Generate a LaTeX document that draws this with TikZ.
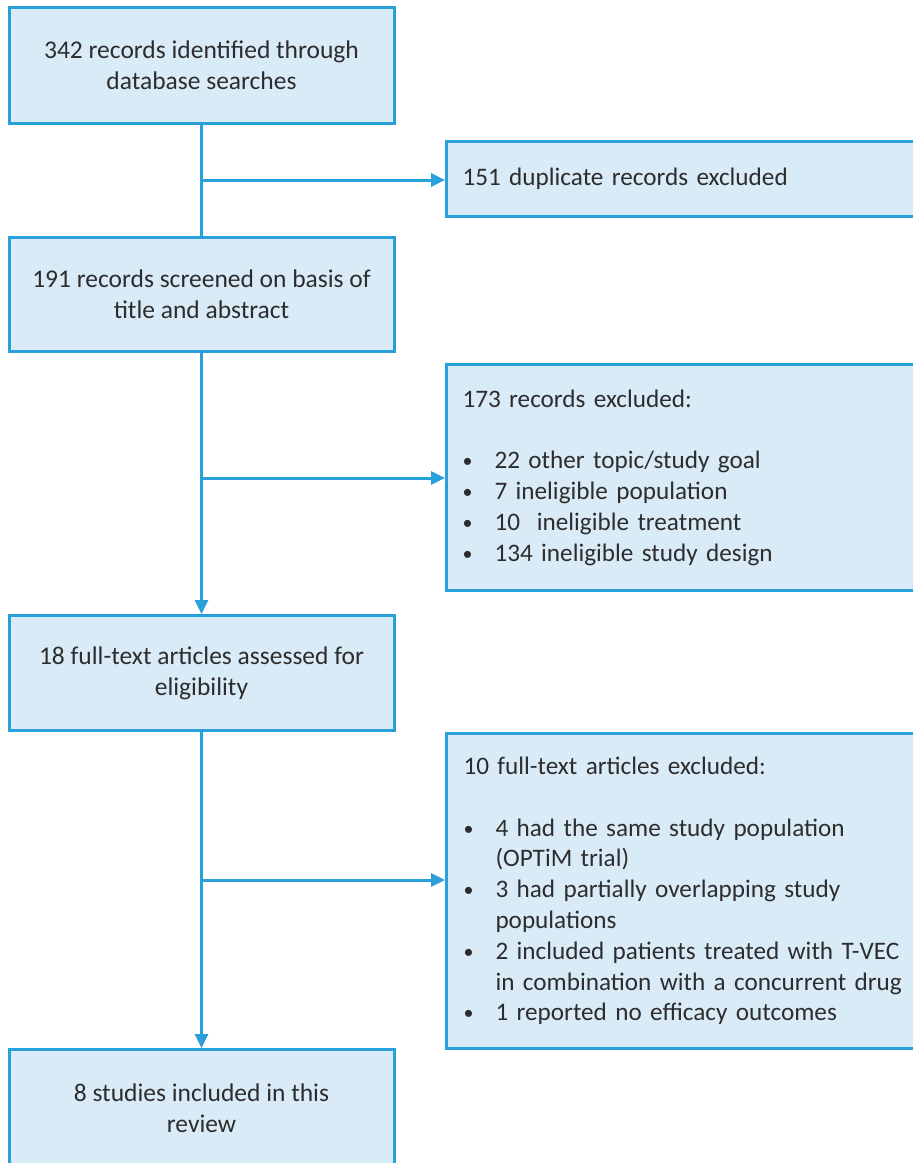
\documentclass[tikz,border=0pt]{standalone}
\usepackage{xcolor}
\usepackage{fontspec}
\setmainfont{Carlito}
\usepackage{tikz}
\usetikzlibrary{arrows.meta, positioning, calc}
\definecolor{myblue}{RGB}{41,160,218}
\definecolor{mylight}{RGB}{218,235,248}
\definecolor{mytext}{RGB}{45,45,45}
\newcommand{\bitem}[1]{\makebox[32pt][l]{\raisebox{1pt}{\fontsize{20}{20}\selectfont\textbullet}}#1}
\newcommand{\bcont}[1]{\hspace*{32pt}#1}
\tikzset{
  box/.style={rectangle, draw=myblue, fill=mylight, line width=3pt, inner sep=0pt, text=mytext, font=\fontsize{25.5}{31}\selectfont},
  leftbox/.style={box, minimum width=385pt, align=center},
  rightbox/.style={box, inner xsep=16pt, text width=451pt, align=left, font=\fontsize{25.2}{30.8}\selectfont},
  arrow/.style={-{Triangle[length=14pt,width=13pt]}, line width=3pt, color=myblue},
  line/.style={line width=3pt, color=myblue}
}
\begin{document}
\begin{tikzpicture}[x=1pt, y=-1pt]
  \useasboundingbox (0,0) rectangle (913,1163);
  \clip (0,0) rectangle (913,1163);

  % Main column
  \node[leftbox, minimum height=116pt] (ident) at (201.5,65.5) {342 records identified through\\database searches};
  \node[leftbox, minimum height=114pt] (screen) at (201.5,294.5) {191 records screened on basis of\\title and abstract};
  \node[leftbox, minimum height=115pt] (full) at (201.5,673) {18 full-text articles assessed for\\eligibility};
  \node[leftbox, minimum height=118pt] (incl) at (201.5,1108.5) {8 studies included in this\\review};

  % Exclusion boxes
  \node[rightbox, minimum height=75pt] (dup) at (688,179) {151 duplicate records excluded};
  \node[rightbox, minimum height=226pt] (excl1) at (688,477.5) {173 records excluded:\\[30.8pt]
    \bitem{22 other topic/study goal}\\
    \bitem{7 ineligible population}\\
    \bitem{10\ \ ineligible treatment}\\
    \bitem{134 ineligible study design}};
  \node[rightbox, minimum height=315pt, inner xsep=17pt] (excl2) at (689,891) {10 full-text articles excluded:\\[30.8pt]
    \bitem{4 had the same study population}\\
    \bcont{(OPTiM trial)}\\
    \bitem{3 had partially overlapping study}\\
    \bcont{populations}\\
    \bitem{2 included patients treated with T-VEC}\\
    \bcont{in combination with a concurrent drug}\\
    \bitem{1 reported no efficacy outcomes}};

  % Connectors
  \coordinate (j1) at (201.5,180);
  \coordinate (j2) at (201.5,478);
  \coordinate (j3) at (201.5,880);
  \draw[line] (ident.south) -- (screen.north);
  \draw[arrow] (j1) -- (j1 -| dup.west);
  \draw[arrow] (screen.south) -- (full.north);
  \draw[arrow] (j2) -- (j2 -| excl1.west);
  \draw[arrow] (full.south) -- (incl.north);
  \draw[arrow] (j3) -- (j3 -| excl2.west);
\end{tikzpicture}
\end{document}
